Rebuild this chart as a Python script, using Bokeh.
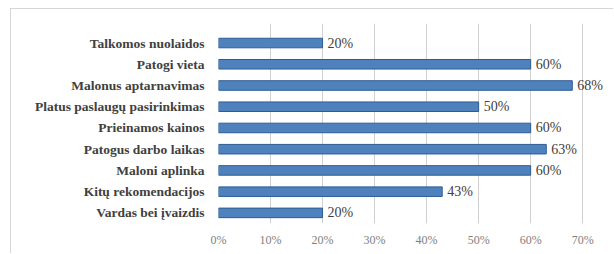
from bokeh.plotting import figure
from bokeh.models import ColumnDataSource, FixedTicker, NumeralTickFormatter, Range1d
from bokeh.core.properties import value
from bokeh.embed import file_html
from bokeh.resources import INLINE

categories = [
    "Talkomos nuolaidos",
    "Patogi vieta",
    "Malonus aptarnavimas",
    "Platus paslaugų pasirinkimas",
    "Prieinamos kainos",
    "Patogus darbo laikas",
    "Maloni aplinka",
    "Kitų rekomendacijos",
    "Vardas bei įvaizdis",
]
shares = [0.20, 0.60, 0.68, 0.50, 0.60, 0.63, 0.60, 0.43, 0.20]
share_labels = ["20%", "60%", "68%", "50%", "60%", "63%", "60%", "43%", "20%"]
x_ticks = [0.0, 0.1, 0.2, 0.3, 0.4, 0.5, 0.6, 0.7]

n = len(categories)
ypos = [n - 1 - i for i in range(n)]

src = ColumnDataSource(dict(y=ypos, v=shares, lab=share_labels, cat=categories))

p = figure(width=603, height=245, output_backend="svg", toolbar_location=None,
           x_range=Range1d(0, 0.74), y_range=Range1d(-0.5, n - 0.5 + 0.42),
           min_border_left=207, min_border_right=11, min_border_top=14, min_border_bottom=31)
p.styles = {"margin-left": "10px", "margin-top": "8px",
            "border-top": "1px solid #d6d6d6", "border-left": "1px solid #d6d6d6"}
p.outline_line_color = None
p.background_fill_color = "white"
p.border_fill_color = "white"

p.hbar(y="y", right="v", left=0, height=0.45, source=src,
       fill_color="#4F81BD", line_color="#2C5C94", line_width=1)

p.text(x="v", y="y", text="lab", source=src, x_offset=5,
       text_baseline="middle", text_align="left",
       text_font=value("Liberation Serif"), text_font_style="normal",
       text_font_size="14px", text_color="#404040")

p.xaxis.ticker = FixedTicker(ticks=x_ticks)
p.xaxis.formatter = NumeralTickFormatter(format="0%")
p.xaxis.axis_line_color = None
p.xaxis.major_tick_line_color = None
p.xaxis.minor_tick_line_color = None
p.xaxis.major_tick_out = 0
p.xaxis.major_label_standoff = 9
p.xaxis.major_label_text_font = "Liberation Serif"
p.xaxis.major_label_text_font_size = "12px"
p.xaxis.major_label_text_color = "#808080"

p.yaxis.ticker = FixedTicker(ticks=ypos)
p.yaxis.major_label_overrides = {y: c for y, c in zip(ypos, categories)}
p.yaxis.axis_line_color = None
p.yaxis.major_tick_line_color = None
p.yaxis.minor_tick_line_color = None
p.yaxis.major_tick_out = 0
p.yaxis.major_label_standoff = 14
p.yaxis.major_label_text_font = "Liberation Serif"
p.yaxis.major_label_text_font_style = "bold"
p.yaxis.major_label_text_font_size = "13.5px"
p.yaxis.major_label_text_color = "#404040"

p.xgrid.ticker = FixedTicker(ticks=x_ticks)
p.xgrid.grid_line_color = "#d0d0d0"
p.ygrid.grid_line_color = None

open("out.html", "w").write(file_html(p, INLINE))
